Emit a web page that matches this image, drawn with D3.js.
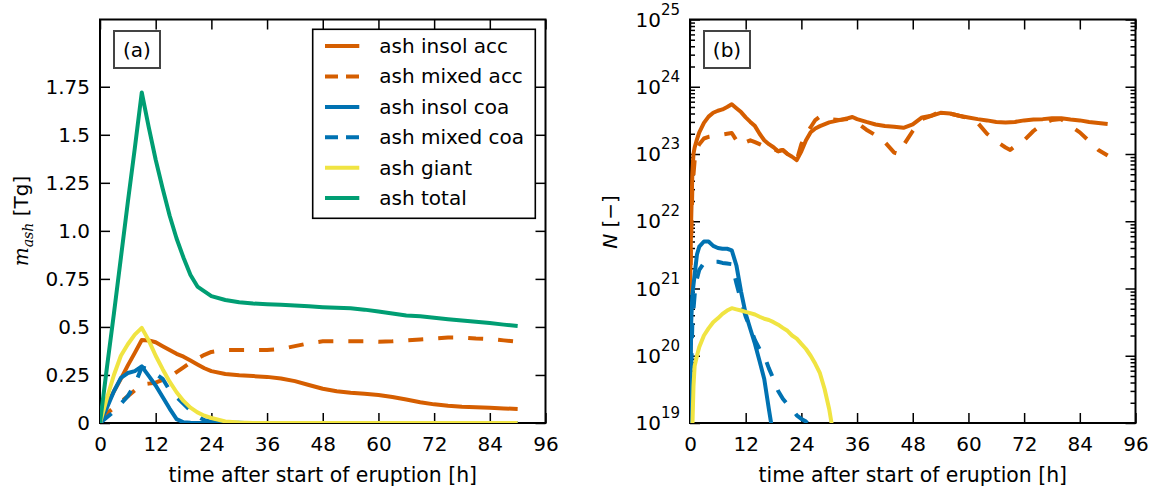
<!DOCTYPE html>
<html>
<head>
<meta charset="utf-8">
<script src="https://cdn.jsdelivr.net/npm/d3@7"></script>
<style>
body { margin: 0; background: #fff; }
text { font-family: "DejaVu Sans", sans-serif; fill: #000; }
</style>
</head>
<body>
<div id="chart"></div>
<script>
// ---- panel (a): ash mass [Tg], shared time axis [h]
var hours = [0,1.5,3,4.5,6,7.5,9,10.5,12,13.5,15,16.5,18,19.5,21,22.5,24,27,30,33,36,39,42,45,48,51,54,57,60,63,66,69,72,75,78,81,84,87,90];
var massInsolAcc = [0.03,0.095,0.165,0.23,0.3,0.365,0.432,0.43,0.42,0.4,0.38,0.36,0.345,0.325,0.305,0.285,0.27,0.255,0.248,0.244,0.24,0.232,0.218,0.198,0.178,0.165,0.157,0.152,0.146,0.135,0.122,0.108,0.097,0.09,0.085,0.082,0.079,0.076,0.073];
var massMixedAcc = [0.02,0.05,0.08,0.11,0.14,0.17,0.2,0.205,0.21,0.225,0.24,0.265,0.29,0.315,0.335,0.355,0.37,0.38,0.38,0.38,0.38,0.385,0.4,0.415,0.425,0.425,0.425,0.425,0.423,0.425,0.43,0.435,0.44,0.445,0.445,0.44,0.437,0.43,0.423];
var massInsolCoa = [0,0.08,0.165,0.235,0.26,0.27,0.295,0.245,0.195,0.135,0.075,0.02,0.004,0.001,0,0,0,0,0,0,0,0,0,0,0,0,0,0,0,0,0,0,0,0,0,0,0,0,0];
var massMixedCoa = [0,0.03,0.06,0.1,0.14,0.2,0.29,0.28,0.255,0.23,0.17,0.135,0.1,0.065,0.035,0.015,0.007,0.002,0.001,0,0,0,0,0,0,0,0,0,0,0,0,0,0,0,0,0,0,0,0];
var massGiant = [0,0.13,0.25,0.35,0.41,0.46,0.495,0.43,0.35,0.28,0.215,0.16,0.115,0.08,0.055,0.038,0.026,0.008,0.002,0.0005,0,0,0,0,0,0,0,0,0,0,0,0,0,0,0,0,0,0,0];
var massTotal = [0,0.29,0.57,0.86,1.15,1.43,1.72,1.54,1.37,1.22,1.08,0.96,0.86,0.77,0.71,0.685,0.66,0.64,0.628,0.622,0.618,0.615,0.612,0.607,0.603,0.6,0.597,0.59,0.58,0.57,0.56,0.555,0.548,0.54,0.533,0.527,0.52,0.512,0.505];

// ---- panel (b): number N [-], each curve with its own time points
var tInsolAccN = [0,0.25,0.5,0.75,1,1.5,2,3,4,5,6,7,8,9,10,11,12,13,14,15,16,17,18,19,20,21,22,23,24,25,26,27,28,30,32,34,35,36,38,40,42,44,46,48,50,52,54,56,58,60,62,64,66,68,70,72,74,76,78,80,82,84,86,88,90];
var numInsolAcc = [8e20,1e22,5e22,1e23,1.25e23,1.65e23,2.1e23,2.9e23,3.6e23,4.1e23,4.4e23,4.6e23,5e23,5.5e23,4.8e23,4.2e23,3.5e23,3e23,2.6e23,2e23,1.6e23,1.4e23,1.26e23,1.1e23,1.15e23,1e23,9.1e22,8.1e22,1.1e23,1.6e23,2.1e23,2.4e23,2.6e23,2.95e23,3.16e23,3.4e23,3.55e23,3.3e23,3e23,2.75e23,2.6e23,2.55e23,2.45e23,2.75e23,3.5e23,3.7e23,4.1e23,4e23,3.7e23,3.5e23,3.3e23,3.16e23,3e23,2.95e23,3e23,3.16e23,3.25e23,3.3e23,3.4e23,3.4e23,3.25e23,3.16e23,3e23,2.9e23,2.8e23];
var tMixedAccN = [0,0.25,0.5,1,1.5,2,3,4,5,6,7,8,9,10,11,12,13,14,15,16,17,18,19,20,21,22,23,24,25,26,27,28,29,30,32,34,35,36,38,40,42,44,45,46,48,50,52,54,56,58,60,62,64,66,68,69,70,72,74,76,78,80,82,84,86,88,90];
var numMixedAcc = [8e20,5e21,3e22,8e22,1.2e23,1.4e23,1.7e23,1.8e23,1.85e23,1.9e23,1.95e23,2e23,2.05e23,1.6e23,1.35e23,1.5e23,1.6e23,1.5e23,1.4e23,1.3e23,1.3e23,1.2e23,1.1e23,1.15e23,1e23,9.1e22,8.1e22,1.4e23,2e23,2.5e23,3.2e23,3.6e23,3.5e23,3.3e23,3.2e23,3.3e23,3.2e23,2.9e23,2.3e23,1.9e23,1.5e23,1.05e23,1e23,1.35e23,2.2e23,3.3e23,3.7e23,4.3e23,4e23,3.7e23,3.4e23,2.9e23,2e23,1.55e23,1.25e23,1.15e23,1.3e23,1.6e23,2.2e23,2.8e23,3.2e23,3.3e23,2.6e23,2.1e23,1.55e23,1.15e23,9.5e22];
var tInsolCoaN = [0,0.25,0.5,1,1.5,2,3,4,5,6,7,8,9,10,11,12,13,14,15,16,17,18];
var numInsolCoa = [3e18,3e20,8e20,1.6e21,3.2e21,4.2e21,5e21,5e21,4.3e21,4e21,3.9e21,3.9e21,3.7e21,2.2e21,9e20,4.2e20,2.5e20,1.5e20,8.3e19,4.5e19,1.6e19,6e18];
var tMixedCoaN = [0,0.25,0.5,1,1.5,2,3,4,5,6,7,8,9,10,11,12,13,14,15,16,17,18,19,20,21,22,23,24,25,26];
var numMixedCoa = [3e18,5e19,3e20,8e20,1.4e21,1.9e21,2.4e21,2.5e21,2.5e21,2.5e21,2.4e21,2.35e21,2.3e21,1.2e21,6.5e20,3.8e20,2.6e20,1.7e20,1.25e20,1e20,6.5e19,4.5e19,3e19,2.3e19,1.9e19,1.6e19,1.3e19,1.15e19,1.05e19,9e18];
var tGiantN = [0,0.5,0.75,1,1.5,2,3,4,5,6,7,8,9,10,11,12,13,14,15,16,17,18,19,20,21,22,23,24,25,26,27,28,29,30,30.5,31];
var numGiant = [1e17,8e18,3.5e19,7e19,1e20,1.35e20,2e20,2.55e20,3.15e20,3.6e20,4.2e20,4.7e20,5.1e20,4.9e20,4.7e20,4.5e20,4.3e20,4.1e20,3.8e20,3.55e20,3.4e20,3.16e20,2.9e20,2.6e20,2.35e20,2e20,1.8e20,1.5e20,1.26e20,1e20,7.6e19,5.5e19,3.2e19,1.6e19,1e19,5e18];

// ---- ticks and labels
var timeTicks = [0,12,24,36,48,60,72,84,96];
var massTicks = [0,0.25,0.5,0.75,1.0,1.25,1.5,1.75];
var massTickLabels = ["0","0.25","0.5","0.75","1.0","1.25","1.5","1.75"];
var numDecades = [19,20,21,22,23,24,25];
var seriesNames = ["ash insol acc","ash mixed acc","ash insol coa","ash mixed coa","ash giant","ash total"];
var seriesColors = ["#D55E00","#D55E00","#0072B2","#0072B2","#F0E442","#009E73"];
var seriesDashed = [false,true,false,true,false,false];

var W = 1155, H = 488;
var svg = d3.select("#chart").append("svg").attr("width", W).attr("height", H);

var boxA = {x:100, y:19.5, w:445.5, h:403.5};
var boxB = {x:690, y:19.5, w:445.5, h:403.5};

var xA = d3.scaleLinear().domain([0,96]).range([0, boxA.w]);
var yA = d3.scaleLinear().domain([0,2.1]).range([boxA.h, 0]);
var xB = d3.scaleLinear().domain([0,96]).range([0, boxB.w]);
var yB = d3.scaleLog().domain([1e19,1e25]).range([boxB.h, 0]);

function styleAxis(g){
    g.select(".domain").remove();
    g.selectAll("line").attr("stroke","#000").attr("stroke-width",1.5);
    g.selectAll("text").attr("font-size","20px").attr("font-family","DejaVu Sans").attr("fill","#000");
}

function panel(box, x, y, id){
    var g = svg.append("g").attr("transform","translate("+box.x+","+box.y+")");
    g.append("clipPath").attr("id", id).append("rect")
	.attr("x",0).attr("y",0).attr("width",box.w).attr("height",box.h);
    // x ticks bottom (labels) and top (none)
    g.append("g").attr("transform","translate(0,"+box.h+")")
	.call(d3.axisBottom(x).tickValues(timeTicks).tickSize(-10).tickPadding(14).tickFormat(d3.format("d")))
	.call(styleAxis);
    g.append("g")
	.call(d3.axisTop(x).tickValues(timeTicks).tickSize(-10).tickFormat(""))
	.call(styleAxis);
    // x label
    g.append("text")
	.attr("x", box.w/2).attr("y", 482 - box.y)
	.attr("text-anchor","middle").attr("font-size","20.4px")
	.text("time after start of eruption [h]");
    return g;
}

function frame(g, box){
    g.append("rect").attr("x",0).attr("y",0).attr("width",box.w).attr("height",box.h)
	.attr("fill","none").attr("stroke","#000").attr("stroke-width",2);
}

function tag(g, label){
    g.append("rect").attr("x",14).attr("y",11.5).attr("width",46).attr("height",37)
	.attr("fill","#fff").attr("stroke","#444").attr("stroke-width",2);
    g.append("text").attr("x",37).attr("y",37).attr("text-anchor","middle")
	.attr("font-size","20px").text(label);
}

function curve(g, id, xs, ys, x, y, i){
    var pts = xs.map(function(t, k){ return [t, ys[k]]; });
    var line = d3.line()
	.x(function(d){ return x(d[0]); })
	.y(function(d){ return y(d[1]); });
    g.append("path")
	.datum(pts)
	.attr("clip-path","url(#"+id+")")
	.attr("d", line)
	.attr("fill","none")
	.attr("stroke", seriesColors[i])
	.attr("stroke-width",4)
	.attr("stroke-linejoin","round")
	.attr("stroke-dasharray", seriesDashed[i] ? "15,15" : null);
}

// ---------- panel (a)
var gA = panel(boxA, xA, yA, "clipA");
gA.append("g")
    .call(d3.axisLeft(yA).tickValues(massTicks).tickSize(-10).tickPadding(10)
	  .tickFormat(function(d, i){ return massTickLabels[i]; }))
    .call(styleAxis);
gA.append("g").attr("transform","translate("+boxA.w+",0)")
    .call(d3.axisRight(yA).tickValues(massTicks).tickSize(-10).tickFormat(""))
    .call(styleAxis);
frame(gA, boxA);

var massSeries = [massInsolAcc, massMixedAcc, massInsolCoa, massMixedCoa, massGiant, massTotal];
massSeries.forEach(function(s, i){ curve(gA, "clipA", hours, s, xA, yA, i); });

// y label (a)
var labA = svg.append("text")
    .attr("transform","translate(28,221) rotate(-90)")
    .attr("text-anchor","middle").attr("font-size","20px");
labA.append("tspan").attr("font-family","DejaVu Serif").attr("font-style","italic").text("m");
labA.append("tspan").attr("font-family","DejaVu Serif").attr("font-style","italic")
    .attr("font-size","14px").attr("dy",5).text("ash");
labA.append("tspan").attr("dy",-5).text(" [Tg]");

tag(gA, "(a)");

// legend
var leg = gA.append("g").attr("transform","translate("+(312.7-boxA.x)+","+(29.3-boxA.y)+")");
leg.append("rect").attr("x",0).attr("y",0).attr("width",222.6).attr("height",189)
    .attr("fill","#fff").attr("stroke","#000").attr("stroke-width",1.6);
seriesNames.forEach(function(name, i){
    var ry = 16.8 + i*30.4;
    leg.append("line").attr("x1",12.3).attr("x2",46.6).attr("y1",ry).attr("y2",ry)
	.attr("stroke",seriesColors[i]).attr("stroke-width",4)
	.attr("stroke-dasharray", seriesDashed[i] ? "13,8" : null);
    leg.append("text").attr("x",66.6).attr("y",ry+7).attr("font-size","20px").text(name);
});

// ---------- panel (b)
var gB = panel(boxB, xB, yB, "clipB");
var decadeVals = numDecades.map(function(e){ return Math.pow(10, e); });
var minorVals = [];
numDecades.slice(0, -1).forEach(function(e){
    for (var m = 2; m < 10; m++) minorVals.push(m*Math.pow(10, e));
});
gB.append("g").call(d3.axisLeft(yB).tickValues(decadeVals).tickSize(-10).tickFormat("")).call(styleAxis);
gB.append("g").call(d3.axisLeft(yB).tickValues(minorVals).tickSize(-5).tickFormat("")).call(styleAxis);
gB.append("g").attr("transform","translate("+boxB.w+",0)")
    .call(d3.axisRight(yB).tickValues(decadeVals).tickSize(-10).tickFormat("")).call(styleAxis);
gB.append("g").attr("transform","translate("+boxB.w+",0)")
    .call(d3.axisRight(yB).tickValues(minorVals).tickSize(-5).tickFormat("")).call(styleAxis);
frame(gB, boxB);

numDecades.forEach(function(e){
    var t = gB.append("text").attr("x",-10).attr("y", yB(Math.pow(10,e)) + 7)
	.attr("text-anchor","end").attr("font-size","20px");
    t.append("tspan").text("10");
    t.append("tspan").attr("font-size","15px").attr("dy",-12).text(e);
});

var numTimes = [tInsolAccN, tMixedAccN, tInsolCoaN, tMixedCoaN, tGiantN];
var numSeries = [numInsolAcc, numMixedAcc, numInsolCoa, numMixedCoa, numGiant];
numSeries.forEach(function(s, i){ curve(gB, "clipB", numTimes[i], s, xB, yB, i); });

var labB = svg.append("text")
    .attr("transform","translate(617,222) rotate(-90)")
    .attr("text-anchor","middle").attr("font-size","20px").attr("font-family","DejaVu Serif");
labB.append("tspan").attr("font-style","italic").text("N");
labB.append("tspan").text(" [\u2212]");

tag(gB, "(b)");
</script>
</body>
</html>
